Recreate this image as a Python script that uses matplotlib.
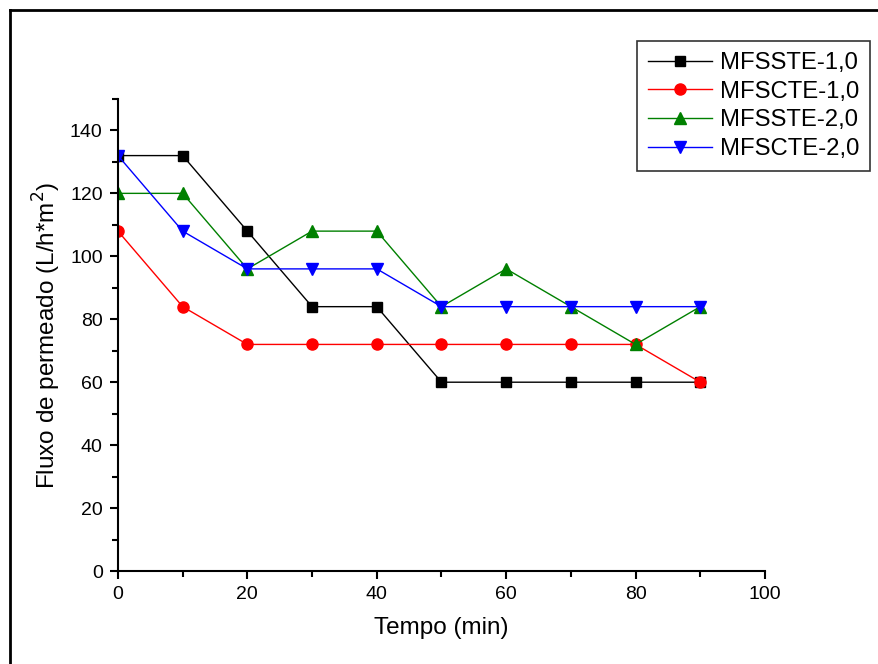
import matplotlib
matplotlib.use("Agg")
import matplotlib.pyplot as plt
from matplotlib.lines import Line2D
from matplotlib.ticker import MultipleLocator

plt.rcParams["font.family"] = ["Liberation Sans", "DejaVu Sans"]

tempo = [0, 10, 20, 30, 40, 50, 60, 70, 80, 90]
mfsste_1 = [132, 132, 108, 84, 84, 60, 60, 60, 60, 60]
mfscte_1 = [108, 84, 72, 72, 72, 72, 72, 72, 72, 60]
mfsste_2 = [120, 120, 96, 108, 108, 84, 96, 84, 72, 84]
mfscte_2 = [132, 108, 96, 96, 96, 84, 84, 84, 84, 84]

series = [
    ("MFSSTE-1,0", mfsste_1, "black", "s", 7),
    ("MFSCTE-1,0", mfscte_1, "red", "o", 8),
    ("MFSSTE-2,0", mfsste_2, "green", "^", 9),
    ("MFSCTE-2,0", mfscte_2, "blue", "v", 9),
]

fig = plt.figure(figsize=(8.79, 6.64), dpi=100)
ax = fig.add_axes([0.1342, 0.140, 0.7361, 0.711])

for label, vals, col, mk, ms in series:
    ax.plot(tempo, vals, color=col, marker=mk, ms=ms, lw=1.0,
            markeredgecolor=col, label=label)

ax.set_xlim(0, 100)
ax.set_ylim(0, 150)
ax.xaxis.set_major_locator(MultipleLocator(20))
ax.xaxis.set_minor_locator(MultipleLocator(10))
ax.yaxis.set_major_locator(MultipleLocator(20))
ax.yaxis.set_minor_locator(MultipleLocator(10))
ax.set_yticks(range(0, 141, 20))
for s in ["top", "right"]:
    ax.spines[s].set_visible(False)
for s in ["left", "bottom"]:
    ax.spines[s].set_linewidth(1.5)
ax.tick_params(which="major", direction="out", length=6, width=1.5,
               labelsize=14, pad=5)
ax.tick_params(which="minor", direction="out", length=4, width=1.5)

ax.set_xlabel("Tempo (min)", fontsize=17.5, labelpad=10)
ax.set_ylabel("Fluxo de permeado (L/h*m$^2$)", fontsize=17.5, labelpad=5)

leg = fig.legend(loc="upper right", bbox_to_anchor=(0.99, 0.938),
                 borderaxespad=0, fontsize=17.2, fancybox=False, framealpha=1,
                 edgecolor="#333333", handlelength=2.7, labelspacing=0.28,
                 borderpad=0.45, handletextpad=0.33)
leg.get_frame().set_linewidth(1.2)

# figure frame: only left and top edges visible
fig.add_artist(Line2D([10 / 879, 10 / 879], [0, 1 - 10 / 664],
                      transform=fig.transFigure, color="black", lw=2))
fig.add_artist(Line2D([10 / 879, 1], [1 - 10 / 664, 1 - 10 / 664],
                      transform=fig.transFigure, color="black", lw=2))

fig.savefig("out.png", dpi=100)
